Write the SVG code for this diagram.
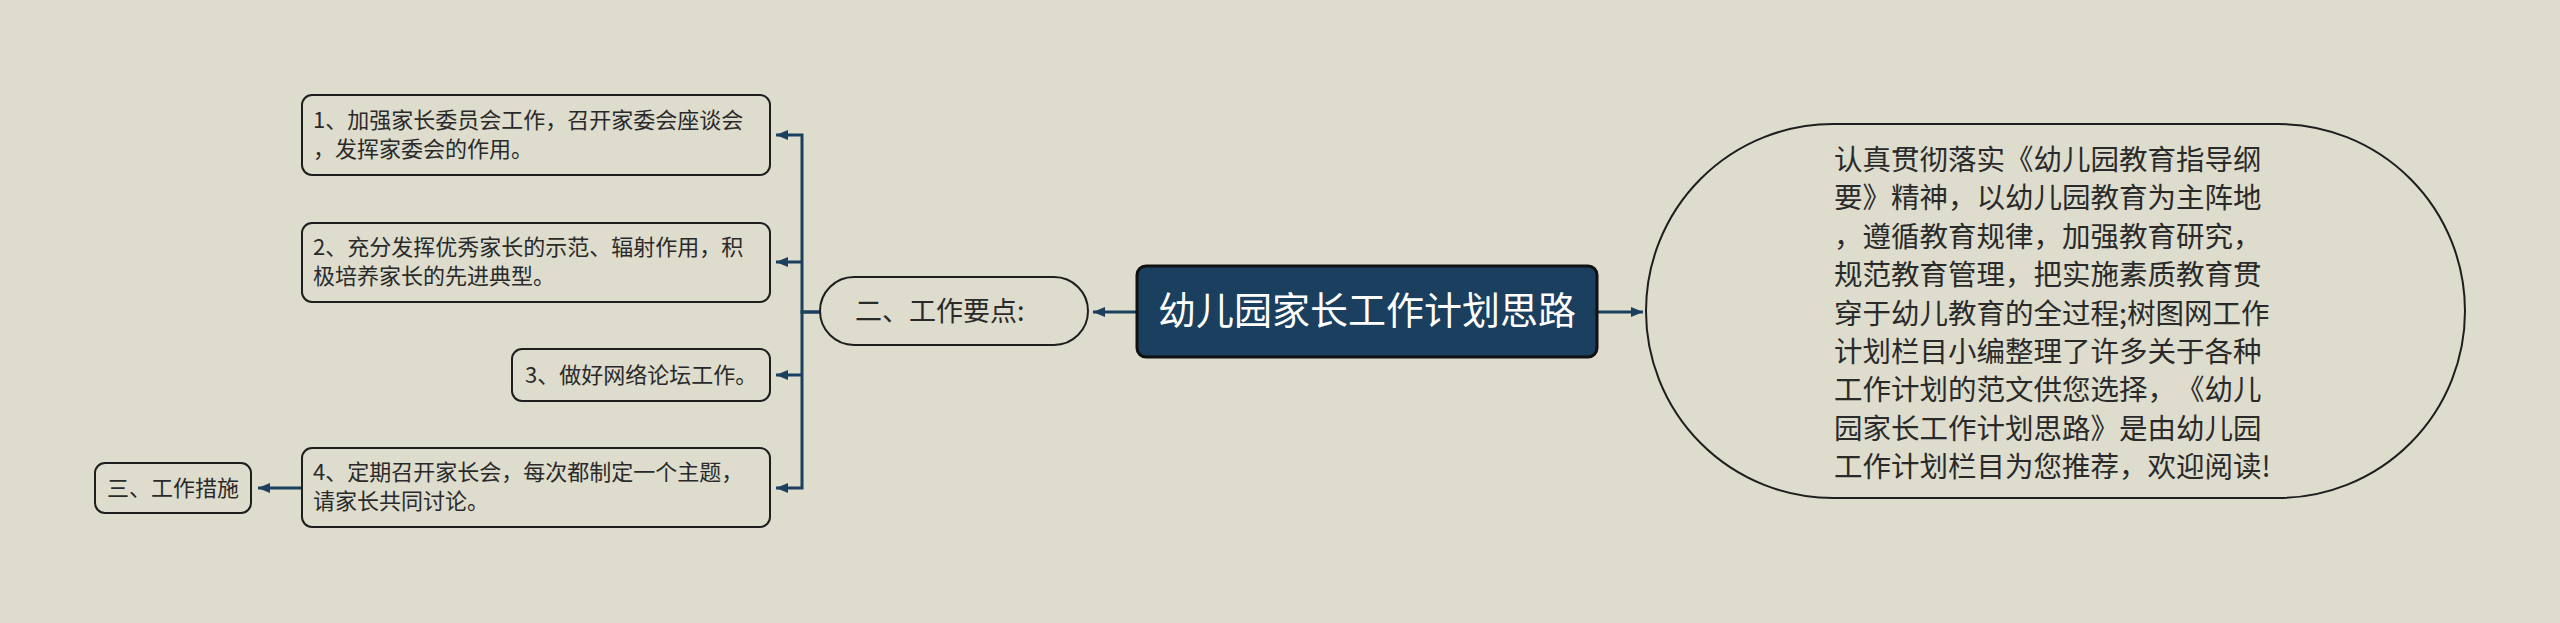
<svg xmlns="http://www.w3.org/2000/svg" width="2560" height="623" viewBox="0 0 2560 623">
<defs>
<style>
.bg{fill:#dddccd}
.box{fill:#dddccd;stroke:#1e1e1e;stroke-width:2}
.t{font-family:"Noto Sans CJK SC","Noto Sans",sans-serif;fill:#2a2a2a;font-kerning:none;text-spacing-trim:space-all}
.s22{font-size:22px}
.con{fill:none;stroke:#1b3f5e;stroke-width:3}
</style>
<marker id="ah" viewBox="0 0 12 10" refX="12" refY="5" markerWidth="12" markerHeight="10" markerUnits="userSpaceOnUse" orient="auto">
<path d="M0,0 L12,5 L0,10 z" fill="#1b3f5e"/>
</marker>
</defs>
<rect class="bg" x="0" y="0" width="2560" height="623"/>
<g id="connectors">
<path class="con" d="M1137 312 H1093" marker-end="url(#ah)"/>
<path class="con" d="M1597 312 H1643" marker-end="url(#ah)"/>
<path class="con" d="M820 312 H802 V135 H776" marker-end="url(#ah)"/>
<path class="con" d="M802 262 H776" marker-end="url(#ah)"/>
<path class="con" d="M802 375 H776" marker-end="url(#ah)"/>
<path class="con" d="M820 312 H802 V488 H776" marker-end="url(#ah)"/>
<path class="con" d="M302 488 H258" marker-end="url(#ah)"/>
</g>
<g id="root">
<rect x="1137" y="266" width="460" height="91" rx="9" fill="#1b3f5e" stroke="#111" stroke-width="3"/>
<text class="t" x="1367" y="324" font-size="38" text-anchor="middle" style="fill:#ffffff">幼儿园家长工作计划思路</text>
</g>
<g id="branch">
<rect class="box" x="820" y="277" width="268" height="68" rx="34" stroke-width="3"/>
<text class="t" x="855" y="321" font-size="27">二、工作要点:</text>
</g>
<g id="summary">
<rect class="box" x="1646" y="124" width="819" height="374" rx="187" ry="187" stroke-width="3.5"/>
<text class="t" font-size="28.5">
<tspan x="1834" y="170">认真贯彻落实《幼儿园教育指导纲</tspan>
<tspan x="1834" y="208.4">要》精神，以幼儿园教育为主阵地</tspan>
<tspan x="1834" y="246.8">，遵循教育规律，加强教育研究，</tspan>
<tspan x="1834" y="285.2">规范教育管理，把实施素质教育贯</tspan>
<tspan x="1834" y="323.6">穿于幼儿教育的全过程;树图网工作</tspan>
<tspan x="1834" y="362">计划栏目小编整理了许多关于各种</tspan>
<tspan x="1834" y="400.4">工作计划的范文供您选择，《幼儿</tspan>
<tspan x="1834" y="438.8">园家长工作计划思路》是由幼儿园</tspan>
<tspan x="1834" y="477.2">工作计划栏目为您推荐，欢迎阅读!</tspan>
</text>
</g>
<g id="item1">
<rect class="box" x="302" y="95" width="468" height="80" rx="10"/>
<text class="t s22"><tspan x="313" y="128">1、加强家长委员会工作，召开家委会座谈会</tspan><tspan x="313" y="157">，发挥家委会的作用。</tspan></text>
</g>
<g id="item2">
<rect class="box" x="302" y="223" width="468" height="79" rx="10"/>
<text class="t s22"><tspan x="313" y="255">2、充分发挥优秀家长的示范、辐射作用，积</tspan><tspan x="313" y="284">极培养家长的先进典型。</tspan></text>
</g>
<g id="item3">
<rect class="box" x="512" y="349" width="258" height="52" rx="10"/>
<text class="t s22" x="525" y="383">3、做好网络论坛工作。</text>
</g>
<g id="item4">
<rect class="box" x="302" y="448" width="468" height="79" rx="10"/>
<text class="t s22"><tspan x="313" y="480">4、定期召开家长会，每次都制定一个主题，</tspan><tspan x="313" y="509">请家长共同讨论。</tspan></text>
</g>
<g id="item5">
<rect class="box" x="95" y="463" width="156" height="50" rx="10"/>
<text class="t s22" x="173" y="496" text-anchor="middle">三、工作措施</text>
</g>
</svg>
